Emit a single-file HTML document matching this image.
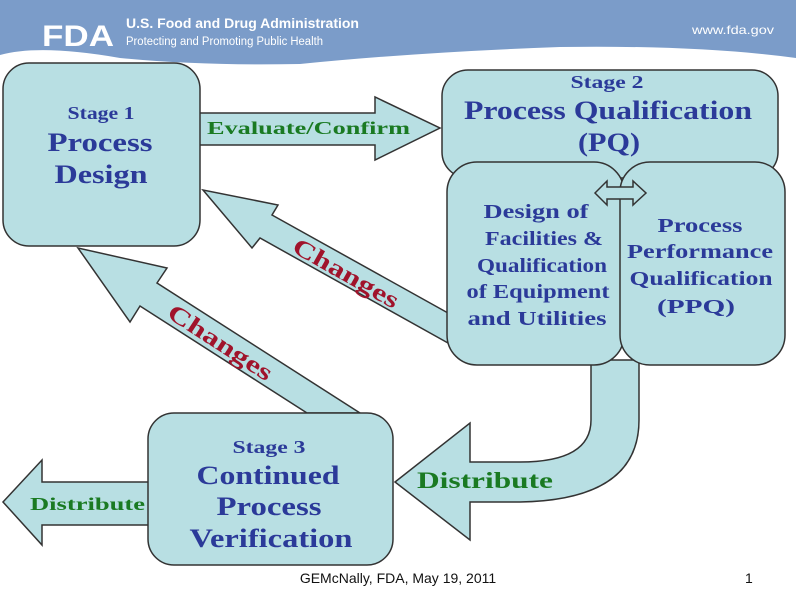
<!DOCTYPE html>
<html><head><meta charset="utf-8"><style>
html,body{margin:0;padding:0;background:#fff;}
svg{display:block;}
.s{font-family:"Liberation Serif",serif;font-weight:bold;}
</style></head><body>
<svg width="796" height="594" viewBox="0 0 796 594" xmlns="http://www.w3.org/2000/svg">
<rect x="0" y="0" width="796" height="66" fill="#7b9cc9"/>
<path d="M0 66 L0 55 Q40 44 120 58 Q200 66 300 64 Q420 52 560 47 Q700 45 796 58 L796 66 Z" fill="#fff"/>
<text x="42" y="46" font-family="Liberation Sans,sans-serif" font-weight="bold" font-size="30" fill="#fff" textLength="72" lengthAdjust="spacingAndGlyphs">FDA</text>
<text x="126" y="28" font-family="Liberation Sans,sans-serif" font-weight="bold" font-size="14" fill="#fff" textLength="233" lengthAdjust="spacingAndGlyphs">U.S. Food and Drug Administration</text>
<text x="126" y="45" font-family="Liberation Sans,sans-serif" font-size="11.5" fill="#fff" textLength="197" lengthAdjust="spacingAndGlyphs">Protecting and Promoting Public Health</text>
<text x="692" y="34" font-family="Liberation Sans,sans-serif" font-size="12" fill="#fff" textLength="82" lengthAdjust="spacingAndGlyphs">www.fda.gov</text>

<g fill="#b8dfe3" stroke="#333" stroke-width="1.5">
<path d="M198 113 L375 113 L375 97 L440 128 L375 160 L375 145 L198 145 Z"/>
<rect x="3" y="63" width="197" height="183" rx="26"/>
<path d="M448 313 L272 215 L278 205 L203 190 L252 248 L260 238 L448 343 Z"/>
<path d="M307 413 L140 306 L130 322 L78 248 L167 268 L157 283 L360 413 Z"/>
<path d="M591 360 L591 420 Q591 462 520 462 L470 462 L470 423 L395 482 L470 540 L470 502 L520 502 Q639 500 639 420 L639 360 Z"/>
<rect x="442" y="70" width="336" height="108" rx="26"/>
<rect x="447" y="162" width="177" height="203" rx="30"/>
<rect x="620" y="162" width="165" height="203" rx="30"/>
<path d="M595 193 L607 181 L607 187 L633 187 L633 181 L646 193 L633 205 L633 199 L607 199 L607 205 Z"/>
<path d="M150 482 L42 482 L42 460 L3 502 L42 545 L42 525 L150 525 Z"/>
<rect x="148" y="413" width="245" height="152" rx="26"/>
</g>

<g class="s" fill="#2b3a99" text-anchor="middle" lengthAdjust="spacingAndGlyphs">
<text x="101" y="119" font-size="18" textLength="67" lengthAdjust="spacingAndGlyphs">Stage 1</text>
<text x="100" y="151" font-size="26" textLength="105" lengthAdjust="spacingAndGlyphs">Process</text>
<text x="101" y="183" font-size="26" textLength="93" lengthAdjust="spacingAndGlyphs">Design</text>
<text x="607" y="88" font-size="18" textLength="73" lengthAdjust="spacingAndGlyphs">Stage 2</text>
<text x="608" y="119" font-size="26" textLength="288" lengthAdjust="spacingAndGlyphs">Process Qualification</text>
<text x="609" y="151" font-size="26" textLength="62" lengthAdjust="spacingAndGlyphs">(PQ)</text>
<text x="536" y="218" font-size="20" textLength="105" lengthAdjust="spacingAndGlyphs">Design of</text>
<text x="544" y="245" font-size="20" textLength="118" lengthAdjust="spacingAndGlyphs">Facilities &amp;</text>
<text x="542" y="272" font-size="20" textLength="130" lengthAdjust="spacingAndGlyphs">Qualification</text>
<text x="538" y="298" font-size="20" textLength="143" lengthAdjust="spacingAndGlyphs">of Equipment</text>
<text x="537" y="325" font-size="20" textLength="139" lengthAdjust="spacingAndGlyphs">and Utilities</text>
<text x="700" y="232" font-size="20" textLength="85" lengthAdjust="spacingAndGlyphs">Process</text>
<text x="700" y="258" font-size="20" textLength="146" lengthAdjust="spacingAndGlyphs">Performance</text>
<text x="701" y="285" font-size="20" textLength="143" lengthAdjust="spacingAndGlyphs">Qualification</text>
<text x="696" y="313" font-size="20" textLength="78" lengthAdjust="spacingAndGlyphs">(PPQ)</text>
<text x="269" y="453" font-size="18" textLength="73" lengthAdjust="spacingAndGlyphs">Stage 3</text>
<text x="268" y="484" font-size="26" textLength="143" lengthAdjust="spacingAndGlyphs">Continued</text>
<text x="269" y="515" font-size="26" textLength="105" lengthAdjust="spacingAndGlyphs">Process</text>
<text x="271" y="547" font-size="26" textLength="163" lengthAdjust="spacingAndGlyphs">Verification</text>
</g>
<g class="s" fill="#1a7a22">
<text x="207" y="134" font-size="18" textLength="203" lengthAdjust="spacingAndGlyphs">Evaluate/Confirm</text>
<text x="30" y="510" font-size="18" textLength="115" lengthAdjust="spacingAndGlyphs">Distribute</text>
<text x="417" y="488" font-size="23" textLength="136" lengthAdjust="spacingAndGlyphs">Distribute</text>
</g>
<g class="s" fill="#a0132b" text-anchor="middle" font-size="24">
<text x="0" y="0" transform="translate(342,280) rotate(29.5)" textLength="118" lengthAdjust="spacingAndGlyphs">Changes</text>
<text x="0" y="0" transform="translate(216,349) rotate(33)" textLength="120" lengthAdjust="spacingAndGlyphs">Changes</text>
</g>
<text x="398" y="583" text-anchor="middle" font-family="Liberation Sans,sans-serif" font-size="14" fill="#111">GEMcNally, FDA, May 19, 2011</text>
<text x="745" y="583" font-family="Liberation Sans,sans-serif" font-size="14" fill="#111">1</text>
</svg>
</body></html>
